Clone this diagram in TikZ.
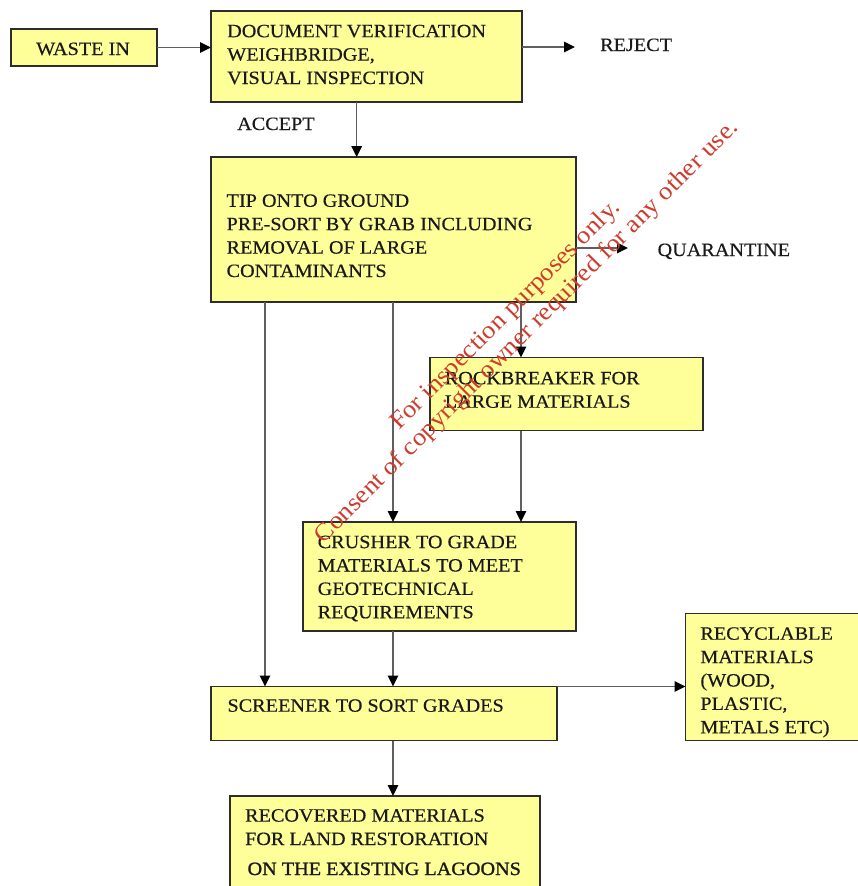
\documentclass[tikz,border=0pt]{standalone}
\usepackage{fontspec}
\setmainfont{Liberation Serif}[FakeStretch=1.075]
\usetikzlibrary{arrows.meta}
\definecolor{boxfill}{RGB}{255,255,153}
\definecolor{wmred}{RGB}{205,60,45}
\definecolor{linegray}{RGB}{95,95,95}
\definecolor{boxline}{RGB}{45,45,45}
\begin{document}
\begin{tikzpicture}[x=1pt,y=-1pt,
  box/.style={draw=boxline, line width=1.2pt, fill=boxfill, inner sep=0pt, outer sep=0pt},
  lbl/.style={inner sep=0pt, anchor=base west, align=left, text=black!90,
    font=\fontsize{18.8}{23.4}\selectfont\addfontfeature{FakeBold=0.35}},
  arr/.style={draw=linegray, line width=1.5pt, -{Triangle[length=11pt,width=10.5pt,color=black]}},
  wm/.style={text=wmred, inner sep=0pt, anchor=base, rotate=45, font=\fontsize{24.8}{27}\selectfont}]
\useasboundingbox (0,0) rectangle (858,886);
\fill[white] (0,0) rectangle (858,886);

% boxes
\node[box, minimum width=146pt, minimum height=37pt] (waste) at (84,47.5) {};
\node[box, minimum width=311pt, minimum height=91pt] (doc) at (366.5,56.5) {};
\node[box, minimum width=365pt, minimum height=145pt] (tip) at (393.5,229.5) {};
\node[box, minimum width=273pt, minimum height=73pt] (rock) at (566.5,394) {};
\node[box, minimum width=273pt, minimum height=109pt] (crush) at (439.5,576.5) {};
\node[box, minimum width=346pt, minimum height=54pt] (screen) at (384,713.5) {};
\node[box, minimum width=178pt, minimum height=127pt] (recyc) at (774.5,677) {};
\node[box, minimum width=310pt, minimum height=100pt] (recov) at (385,846) {};

% texts (anchor = baseline of the last line)
\node[lbl] (wastet) at (36,55) {WASTE IN};
\node[lbl] (doct) at (227,84) {DOCUMENT VERIFICATION\\WEIGHBRIDGE,\\VISUAL INSPECTION};
\node[lbl] (rejt) at (600,51) {REJECT};
\node[lbl] (acct) at (237,130) {ACCEPT};
\node[lbl] (tipt) at (226.4,277) {TIP ONTO GROUND\\PRE-SORT BY GRAB INCLUDING\\REMOVAL OF LARGE\\CONTAMINANTS};
\node[lbl] (quart) at (657.4,256) {QUARANTINE};
\node[lbl] (rockt) at (444.6,407.7) {ROCKBREAKER FOR\\LARGE MATERIALS};
\node[lbl] (crusht) at (317.5,618.3) {CRUSHER TO GRADE\\MATERIALS TO MEET\\GEOTECHNICAL\\REQUIREMENTS};
\node[lbl] (recyct) at (700.2,733.3) {RECYCLABLE\\MATERIALS\\(WOOD,\\PLASTIC,\\METALS ETC)};
\node[lbl] (screent) at (227.3,711.7) {SCREENER TO SORT GRADES};
\node[lbl] (recovt) at (244.9,845) {RECOVERED MATERIALS\\FOR LAND RESTORATION};
\node[lbl, font=\fontsize{18.8}{23.4}\selectfont\addfontfeature{FakeBold=1.2}] (recovt2) at (247.4,875) {ON THE EXISTING LAGOONS};

% helper coordinates
\coordinate (cA) at (356.7,0);
\coordinate (cB) at (265,0);
\coordinate (cC) at (393,0);
\coordinate (cD) at (521,0);
\coordinate (rR) at (0,47);
\coordinate (rQ) at (0,248);
\coordinate (rejend) at (575,47);
\coordinate (quarend) at (628,248);

% connectors
\draw[arr] (waste.east) -- (doc.west |- waste.east);
\draw[arr] (doc.east |- rR) -- (rejend);
\draw[arr] (doc.south -| cA) -- (tip.north -| cA);
\draw[arr] (tip.east |- rQ) -- (quarend);
\draw[arr] (tip.south -| cD) -- (rock.north -| cD);
\draw[arr] (tip.south -| cC) -- (crush.north -| cC);
\draw[arr] (tip.south -| cB) -- (screen.north -| cB);
\draw[arr] (rock.south -| cD) -- (crush.north -| cD);
\draw[arr] (crush.south -| cC) -- (screen.north -| cC);
\draw[arr] (screen.north east) -- (recyc.west |- screen.north east);
\draw[arr] (screen.south -| cC) -- (recov.north -| cC);

% watermark
\node[wm] (wm1) at (510,320) {For inspection purposes only.};
\node[wm] (wm2) at (531.5,336.5) {Consent of copyright owner required for any other use.};
\end{tikzpicture}
\end{document}
